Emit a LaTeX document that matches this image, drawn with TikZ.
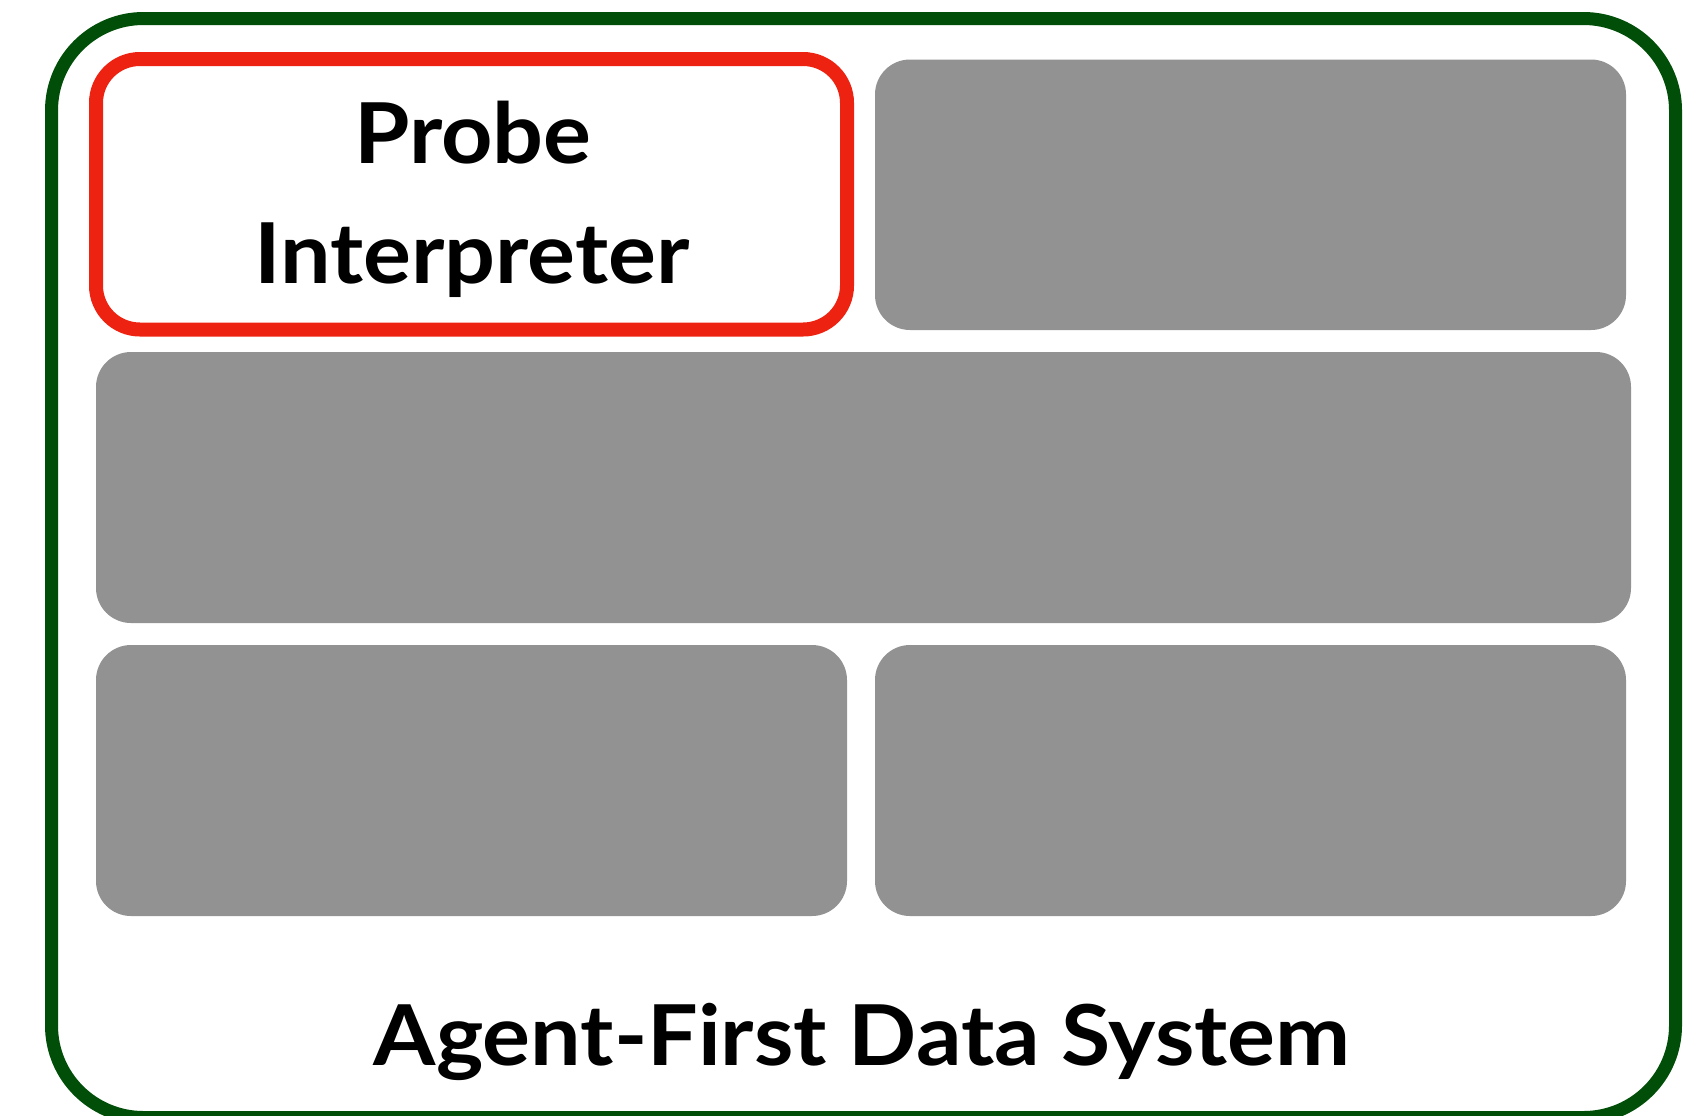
\documentclass[tikz,border=0pt]{standalone}
\usepackage{fontspec}
\setmainfont{Lato}[FakeStretch=1.068]
\definecolor{framegreen}{RGB}{0,78,8}
\definecolor{probered}{RGB}{238,34,16}
\definecolor{blockgrey}{RGB}{146,146,146}
\tikzset{
  outerframe/.style={draw=framegreen, line width=6.5pt, rounded corners=46pt, inner sep=0pt, outer sep=0pt},
  probebox/.style={draw=probered, line width=7pt, fill=white, rounded corners=22pt, inner sep=0pt, outer sep=0pt},
  greyblock/.style={fill=blockgrey, draw=none, rounded corners=17.5pt, inner sep=0pt, outer sep=0pt},
  bigtext/.style={inner sep=0pt, anchor=base, font=\fontsize{42}{60}\selectfont\bfseries, text=black}
}
\begin{document}
\begin{tikzpicture}[x=0.5pt, y=-0.5pt]
\useasboundingbox (0,0) rectangle (1707,1115);
\fill[white] (0,0) rectangle (1707,1115);
% outer frame
\node[outerframe, minimum width=812pt, minimum height=549.5pt] (frame) at (863.5,568) {};
% probe interpreter box
\node[probebox, minimum width=375.5pt, minimum height=135.25pt] (probe) at (471.5,194.25) {};
% grey blocks
\node[greyblock, minimum width=375.5pt, minimum height=135.25pt] (topright) at (1250.5,194.75) {};
\node[greyblock, minimum width=767.5pt, minimum height=135.5pt] (middle) at (863.5,487.5) {};
\node[greyblock, minimum width=375.5pt, minimum height=135.5pt] (botleft) at (471.5,780.5) {};
\node[greyblock, minimum width=375.5pt, minimum height=135.5pt] (botright) at (1250.5,780.5) {};
% texts
\node[bigtext] (probetext) at (473,163) {Probe};
\node[bigtext] (interptext) at (472,283) {Interpreter};
\node[bigtext] (title) at (862,1065) {Agent-First Data System};
\end{tikzpicture}
\end{document}
